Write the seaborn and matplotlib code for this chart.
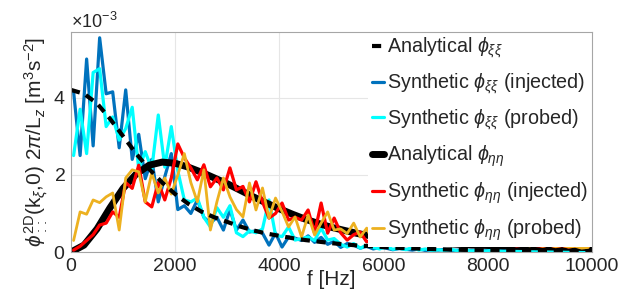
import numpy as np
import pandas as pd
import matplotlib
matplotlib.use('Agg')
import matplotlib.pyplot as plt
import seaborn as sns
from matplotlib.ticker import ScalarFormatter

# frequency bins of the synthetic spectra and of the analytical curves [Hz]
freq_syn = np.arange(50, 10000, 125)
freq_ana = np.arange(0, 10001, 250)

# values in units of 1e-3 m^3 s^-2
xi_analytical = [4.20, 4.10, 3.85, 3.45, 3.00, 2.55, 2.15, 1.80, 1.50, 1.25,
                 1.05, 0.90, 0.78, 0.66, 0.56, 0.48, 0.42, 0.36, 0.31, 0.27,
                 0.23, 0.20, 0.17, 0.15, 0.13, 0.11, 0.10, 0.085, 0.075, 0.065,
                 0.057, 0.05, 0.044, 0.039, 0.034, 0.030, 0.027, 0.024, 0.021, 0.019,
                 0.017]
eta_analytical = [0.0, 0.18, 0.60, 1.15, 1.65, 2.02, 2.25, 2.33, 2.30, 2.20,
                  2.07, 1.92, 1.77, 1.60, 1.43, 1.27, 1.12, 0.98, 0.85, 0.74,
                  0.64, 0.56, 0.48, 0.42, 0.37, 0.33, 0.29, 0.26, 0.235, 0.215,
                  0.195, 0.18, 0.17, 0.16, 0.15, 0.14, 0.135, 0.13, 0.125, 0.12,
                  0.115]
xi_injected = [4.15, 2.50, 5.00, 2.75, 5.55, 4.10, 4.15, 2.70, 4.20, 2.40,
               3.05, 1.90, 2.40, 1.30, 1.95, 2.55, 1.10, 1.20, 1.00, 1.35,
               0.90, 0.75, 0.90, 0.57, 1.10, 0.57, 0.83, 0.52, 0.55, 0.49,
               0.18, 0.49, 0.13, 0.39, 0.36, 0.30, 0.42, 0.25, 0.38, 0.20,
               0.28, 0.12, 0.22, 0.18, 0.10, 0.15, 0.08, 0.12, 0.10, 0.06,
               0.09, 0.07, 0.05, 0.08, 0.04, 0.06, 0.05, 0.07, 0.04, 0.05,
               0.03, 0.05, 0.04, 0.03, 0.05, 0.03, 0.04, 0.02, 0.04, 0.03,
               0.02, 0.03, 0.02, 0.03, 0.02, 0.03, 0.02, 0.02, 0.03, 0.02]
xi_probed = [2.50, 3.70, 2.55, 4.65, 4.75, 3.25, 3.50, 2.90, 3.20, 3.75,
             2.15, 2.60, 2.15, 3.55, 2.20, 3.25, 2.10, 1.35, 1.30, 1.40,
             0.90, 0.65, 1.15, 0.90, 1.20, 0.50, 0.40, 0.55, 0.50, 0.60,
             1.35, 0.44, 0.40, 0.65, 0.31, 0.35, 0.39, 0.30, 0.62, 0.31,
             0.35, 0.20, 0.13, 0.22, 0.10, 0.18, 0.12, 0.08, 0.15, 0.07,
             0.10, 0.06, 0.12, 0.05, 0.08, 0.04, 0.06, 0.04, 0.07, 0.03,
             0.05, 0.03, 0.04, 0.02, 0.04, 0.03, 0.02, 0.03, 0.02, 0.03,
             0.02, 0.01, 0.02, 0.03, 0.01, 0.02, 0.01, 0.02, 0.01, 0.01]
eta_injected = [0.05, 0.15, 0.30, 0.45, 0.70, 0.75, 1.04, 0.90, 1.80, 1.65,
                2.25, 1.30, 1.17, 1.80, 1.35, 1.92, 2.80, 2.44, 2.18, 1.87,
                2.26, 1.69, 1.92, 1.61, 2.18, 1.61, 1.70, 1.30, 1.82, 1.30,
                0.88, 1.00, 1.27, 0.83, 0.90, 0.83, 1.09, 0.49, 1.27, 0.49,
                0.88, 0.50, 0.31, 0.45, 0.52, 0.26, 0.35, 0.40, 0.25, 0.38,
                0.22, 0.30, 0.25, 0.32, 0.22, 0.28, 0.20, 0.26, 0.22, 0.25,
                0.18, 0.24, 0.20, 0.22, 0.17, 0.21, 0.18, 0.20, 0.16, 0.18,
                0.26, 0.17, 0.15, 0.19, 0.14, 0.17, 0.13, 0.16, 0.12, 0.14]
eta_probed = [0.30, 1.04, 0.98, 1.35, 1.28, 1.43, 1.53, 0.57, 1.92, 2.13,
              2.08, 1.30, 2.05, 1.53, 1.92, 1.50, 2.00, 2.55, 1.80, 1.30,
              2.13, 0.57, 1.30, 1.92, 1.43, 1.10, 0.91, 1.79, 1.09, 1.66,
              0.88, 1.40, 1.05, 0.65, 0.91, 0.39, 0.96, 0.44, 0.75, 1.04,
              0.57, 0.60, 0.48, 0.75, 0.39, 0.62, 0.26, 0.39, 0.30, 0.36,
              0.28, 0.34, 0.25, 0.33, 0.27, 0.32, 0.24, 0.28, 0.22, 0.27,
              0.21, 0.25, 0.19, 0.24, 0.20, 0.22, 0.17, 0.21, 0.18, 0.20,
              0.16, 0.19, 0.15, 0.18, 0.14, 0.17, 0.13, 0.15, 0.10, 0.12]

syn = pd.DataFrame({'f': freq_syn,
                    'xi_inj': np.array(xi_injected) * 1e-3,
                    'xi_prb': np.array(xi_probed) * 1e-3,
                    'eta_inj': np.array(eta_injected) * 1e-3,
                    'eta_prb': np.array(eta_probed) * 1e-3})
ana = pd.DataFrame({'f': freq_ana,
                    'xi': np.array(xi_analytical) * 1e-3,
                    'eta': np.array(eta_analytical) * 1e-3})

sns.set_style('white')
plt.rcParams['font.family'] = ['Liberation Sans', 'DejaVu Sans']
plt.rcParams['mathtext.fontset'] = 'custom'
plt.rcParams['mathtext.rm'] = 'Liberation Sans'
plt.rcParams['mathtext.it'] = 'Liberation Sans:italic'

fig = plt.figure(figsize=(6.2, 2.99), dpi=100)
ax = fig.add_axes([0.1145, 0.157, 0.8405, 0.736])

sns.lineplot(data=syn, x='f', y='xi_inj', ax=ax, color='#0072BD', lw=2.3, zorder=3)
sns.lineplot(data=syn, x='f', y='xi_prb', ax=ax, color='#00FFFF', lw=2.3, zorder=3)
sns.lineplot(data=ana, x='f', y='eta', ax=ax, color='black', lw=5, zorder=3)
sns.lineplot(data=syn, x='f', y='eta_inj', ax=ax, color='#FF0000', lw=2.3, zorder=3)
sns.lineplot(data=syn, x='f', y='eta_prb', ax=ax, color='#EDB120', lw=2.0, zorder=3)
sns.lineplot(data=ana, x='f', y='xi', ax=ax, color='black', lw=3, zorder=4,
             linestyle=(0, (2.2, 1.6)))

lines = ax.get_lines()
handles = [lines[5], lines[0], lines[1], lines[2], lines[3], lines[4]]
labels = [r'Analytical $\phi_{\xi\xi}$',
          r'Synthetic $\phi_{\xi\xi}$ (injected)',
          r'Synthetic $\phi_{\xi\xi}$ (probed)',
          r'Analytical $\phi_{\eta\eta}$',
          r'Synthetic $\phi_{\eta\eta}$ (injected)',
          r'Synthetic $\phi_{\eta\eta}$ (probed)']
leg = ax.legend(handles, labels, loc='upper right', bbox_to_anchor=(1, 1),
                borderaxespad=0, fontsize=14.2, handlelength=0.6, handletextpad=0.15,
                labelspacing=0.58, frameon=True, fancybox=False, borderpad=0.2)
leg.get_frame().set_edgecolor('none')
leg.get_frame().set_alpha(1)

ax.set_xlim(0, 10000)
ax.set_ylim(0, 5.7e-3)
ax.set_xticks([0, 2000, 4000, 6000, 8000, 10000])
ax.set_yticks([0, 2e-3, 4e-3])
fmt = ScalarFormatter(useMathText=True)
fmt.set_powerlimits((-3, -3))
ax.yaxis.set_major_formatter(fmt)
ax.yaxis.get_offset_text().set_fontsize(13)
ax.yaxis.get_offset_text().set_color('#262626')
ax.grid(True, color='#e6e6e6', lw=0.8)
ax.tick_params(labelsize=14, colors='#262626', length=0, pad=4)
for s in ax.spines.values():
    s.set_color('#a6a6a6')
    s.set_linewidth(0.8)
    s.set_zorder(10)

ax.set_xlabel('f [Hz]', fontsize=15, labelpad=-3, color='#262626')
ax.set_ylabel(r'$\phi^{\rm 2D}_{::}$(k$_\xi$,0) 2$\pi$/L$_z$ [m$^3$s$^{-2}$]',
              fontsize=15, labelpad=2, color='#262626')

fig.savefig('out.png', dpi=100)
